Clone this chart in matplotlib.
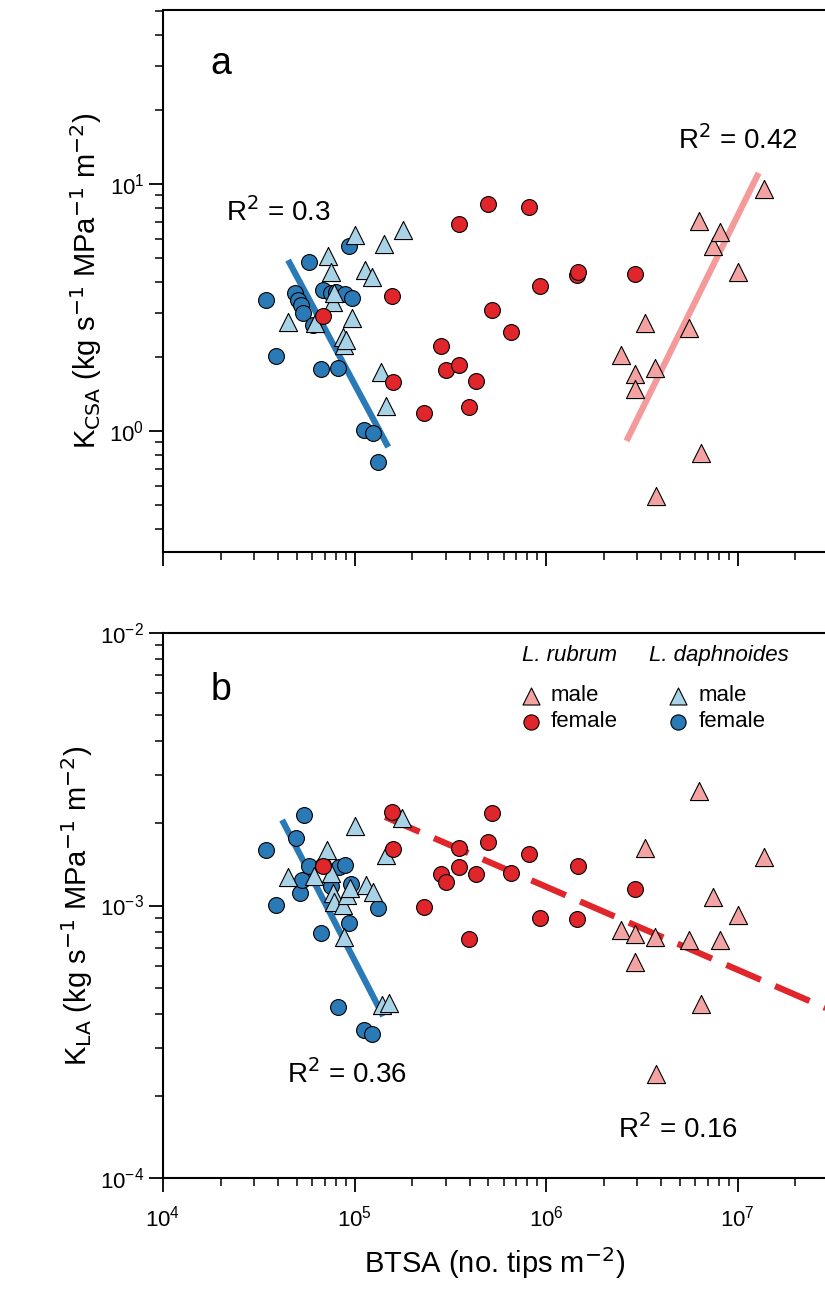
import numpy as np
import matplotlib
matplotlib.use("Agg")
import matplotlib.pyplot as plt
from matplotlib.ticker import LogLocator, NullFormatter

plt.rcParams['font.family'] = ['Liberation Sans', 'DejaVu Sans']

# log10 values
# Panel a (K_CSA)
a_dfem_x = [4.538,4.591,4.690,4.706,4.721,4.732,4.763,4.784,4.836,4.826,4.878,4.915,4.904,4.951,4.972,4.988,5.051,5.098,5.124]
a_dfem_y = [0.530,0.304,0.559,0.530,0.510,0.478,0.684,0.429,0.571,0.251,0.559,0.255,0.563,0.555,0.749,0.538,0.004,-0.008,-0.126]
a_dmal_x = [4.653,4.795,4.863,4.878,4.889,4.894,4.941,4.946,4.957,4.988,5.004,5.056,5.093,5.140,5.166,5.155,5.255]
a_dmal_y = [0.441,0.437,0.709,0.644,0.522,0.559,0.381,0.348,0.368,0.457,0.794,0.652,0.623,0.239,0.101,0.757,0.814]
a_rfem_x = [4.836,5.202,5.197,5.364,5.453,5.479,5.547,5.547,5.599,5.636,5.699,5.720,5.819,5.913,5.966,6.159,6.169,6.462]
a_rfem_y = [0.466,0.198,0.547,0.073,0.344,0.247,0.838,0.267,0.097,0.202,0.919,0.490,0.401,0.907,0.587,0.632,0.644,0.636]
a_rmal_x = [6.389,6.462,6.462,6.514,6.567,6.572,6.744,6.797,6.807,6.870,6.906,7.000,7.136]
a_rmal_y = [0.308,0.231,0.170,0.437,0.255,-0.263,0.417,0.850,-0.089,0.749,0.806,0.644,0.980]
# Panel b (K_LA)
b_dfem_x = [4.538,4.591,4.695,4.716,4.726,4.737,4.763,4.826,4.836,4.878,4.915,4.920,4.951,4.972,4.983,5.051,5.093,5.124]
b_dfem_y = [-2.796,-2.998,-2.752,-2.954,-2.906,-2.668,-2.855,-3.101,-2.851,-2.928,-3.372,-2.859,-2.851,-3.064,-2.921,-3.457,-3.472,-3.009]
b_dmal_x = [4.653,4.789,4.857,4.878,4.889,4.894,4.941,4.946,4.962,4.977,5.004,5.061,5.098,5.145,5.166,5.181,5.249]
b_dmal_y = [-2.895,-2.892,-2.796,-2.881,-2.954,-2.987,-2.998,-3.116,-2.961,-2.936,-2.708,-2.925,-2.950,-3.365,-2.815,-3.358,-2.679]
b_rfem_x = a_rfem_x
b_rfem_y = [-2.855,-2.793,-2.657,-3.006,-2.884,-2.914,-2.789,-2.859,-3.123,-2.884,-2.767,-2.661,-2.881,-2.811,-3.046,-3.050,-2.855,-2.939]
b_rmal_x = a_rmal_x
b_rmal_y = [-3.090,-3.207,-3.105,-2.789,-3.116,-3.618,-3.127,-2.580,-3.361,-2.969,-3.127,-3.035,-2.822]
# fit lines: (x_start, x_end, y_start, y_end) in log10
a_fit_d = (4.653, 5.176, 0.692, -0.065)
a_fit_r = (6.420, 7.110, -0.040, 1.045)
b_fit_d = (4.622, 5.150, -2.686, -3.406)
b_fit_r = (5.160, 7.460, -2.675, -3.376)

LB, DB = '#f4a3a3', '#a8d2e6'
RED, BLUE = '#e0252b', '#2a7ab8'
LINE_R_A, LINE_B, LINE_R_B = '#f59a9a', '#2a7ab8', '#e0252b'

fig = plt.figure(figsize=(8.25, 13.10), dpi=100)
axa = fig.add_axes([163/825, 1-552/1310, 1-163/825+0.002, (552-10)/1310])
axb = fig.add_axes([163/825, 1-1178/1310, 1-163/825+0.002, (1178-633)/1310])

def p(v): return 10**np.asarray(v)

def scatter(ax, xs, ys, marker, color, size):
    ax.scatter(p(xs), p(ys), marker=marker, s=size, c=color, edgecolors='black', linewidths=0.8, zorder=3)

def fit(ax, f, color, ls):
    ax.plot(p([f[0], f[1]]), p([f[2], f[3]]), color=color, lw=4.5, ls=ls, zorder=2, solid_capstyle='butt')

for ax in (axa, axb):
    ax.set_xscale('log'); ax.set_yscale('log')
    ax.set_xlim(1e4, 10**7.465)
    ax.xaxis.set_major_locator(LogLocator(base=10, numticks=10))
    ax.xaxis.set_minor_locator(LogLocator(base=10, subs=np.arange(2, 10), numticks=20))
    ax.yaxis.set_minor_locator(LogLocator(base=10, subs=np.arange(2, 10), numticks=20))
    ax.yaxis.set_minor_formatter(NullFormatter())
    ax.xaxis.set_minor_formatter(NullFormatter())
    ax.tick_params(which='major', direction='out', length=10, width=1.3, labelsize=16)
    ax.tick_params(which='minor', direction='out', length=6, width=1.1)
    for s in ax.spines.values():
        s.set_linewidth(1.5)

fit(axa, a_fit_d, LINE_B, '-')
fit(axa, a_fit_r, LINE_R_A, '-')
scatter(axa, a_dfem_x, a_dfem_y, 'o', BLUE, 130)
scatter(axa, a_dmal_x, a_dmal_y, '^', DB, 170)
scatter(axa, a_rfem_x, a_rfem_y, 'o', RED, 130)
scatter(axa, a_rmal_x, a_rmal_y, '^', LB, 170)
axa.set_ylim(10**-0.49, 10**1.705)
axa.tick_params(axis='x', labelbottom=False)
axa.set_ylabel(r'K$_{\mathrm{CSA}}$ (kg s$^{-1}$ MPa$^{-1}$ m$^{-2}$)', fontsize=21)
axa.text(0.072, 0.9, 'a', transform=axa.transAxes, fontsize=27, va='center')
axa.text(10**4.60, 10**0.887, r'R$^2$ = 0.3', fontsize=20, ha='center', va='center')
axa.text(10**7.0, 10**1.18, r'R$^2$ = 0.42', fontsize=20, ha='center', va='center')

fit(axb, b_fit_d, LINE_B, '-')
fit(axb, b_fit_r, LINE_R_B, (0, (6, 2.5)))
scatter(axb, b_dfem_x, b_dfem_y, 'o', BLUE, 130)
scatter(axb, b_dmal_x, b_dmal_y, '^', DB, 170)
scatter(axb, b_rfem_x, b_rfem_y, 'o', RED, 130)
scatter(axb, b_rmal_x, b_rmal_y, '^', LB, 170)
axb.set_ylim(1e-4, 1e-2)
axb.set_ylabel(r'K$_{\mathrm{LA}}$ (kg s$^{-1}$ MPa$^{-1}$ m$^{-2}$)', fontsize=21)
axb.set_xlabel(r'BTSA (no. tips m$^{-2}$)', fontsize=21, labelpad=10)
axb.tick_params(axis='x', pad=10)
axb.text(0.072, 0.895, 'b', transform=axb.transAxes, fontsize=27, va='center')
axb.text(10**4.96, 10**-3.62, r'R$^2$ = 0.36', fontsize=20, ha='center', va='center')
axb.text(10**6.69, 10**-3.82, r'R$^2$ = 0.16', fontsize=20, ha='center', va='center')

# legend
tr = axb.transAxes
def fx(px): return (px-163)/(825-163)
def fy(py): return (1178-py)/(1178-633)
axb.text(fx(568), fy(656), 'L. rubrum', style='italic', fontsize=16, ha='center', va='center', transform=tr)
axb.text(fx(717), fy(656), 'L. daphnoides', style='italic', fontsize=16, ha='center', va='center', transform=tr)
for (mx, lx) in ((530, 550), (677, 697)):
    col_t = LB if mx == 530 else DB
    col_c = RED if mx == 530 else BLUE
    axb.scatter([fx(mx)], [fy(696)], marker='^', s=150, c=col_t, edgecolors='black', linewidths=0.8, transform=tr, zorder=4)
    axb.scatter([fx(mx)], [fy(722)], marker='o', s=120, c=col_c, edgecolors='black', linewidths=0.8, transform=tr, zorder=4)
    axb.text(fx(lx), fy(696), 'male', fontsize=16, va='center', transform=tr)
    axb.text(fx(lx), fy(722), 'female', fontsize=16, va='center', transform=tr)

fig.savefig('out.png', dpi=100)
